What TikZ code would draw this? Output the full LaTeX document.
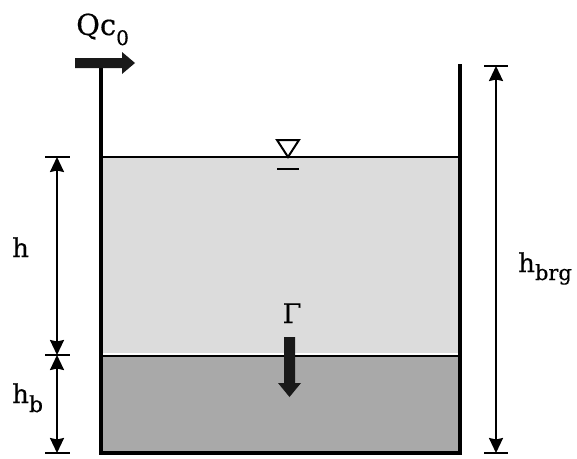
\documentclass[tikz,border=0pt]{standalone}
\usepackage{fontspec}
\setmainfont[FakeBold=0.4]{DejaVu Serif}
\usetikzlibrary{arrows.meta}
\newcommand{\lowsub}[3]{\raisebox{-#1}{\fontsize{#2}{#2}\selectfont #3}}
\begin{document}
\begin{tikzpicture}[x=1pt,y=-1pt,
  wall/.style={line width=3.6pt,line cap=rect},
  dimline/.style={line width=2pt,{Stealth[length=15pt,width=14pt,inset=1.5pt]}-{Stealth[length=15pt,width=14pt,inset=1.5pt]}},
  tick/.style={line width=2pt},
  lab/.style={font=\fontsize{26}{28}\selectfont,inner sep=0pt}]
\useasboundingbox (0,0) rectangle (577,458);
% fills
\fill[fill={rgb,255:red,220;green,220;blue,220}] (101,157) rectangle (460,353);
\fill[fill={rgb,255:red,169;green,169;blue,169}] (101,356) rectangle (460,453);
\draw[line width=2.8pt] (101,356) -- (460,356);
\draw[line width=2.8pt] (101,157) -- (460,157);
% walls
\draw[wall] (101,66) -- (101,453) -- (460,453) -- (460,66);
% inflow arrow
\fill[black!90] (75,58) -- (122,58) -- (122,52) -- (135,63) -- (122,74) -- (122,68) -- (75,68) -- cycle;
\node[lab,font=\fontsize{29}{30}\selectfont,anchor=base west] (qc) at (76,35) {Qc\lowsub{10pt}{20}{0}};
% free surface symbol
\draw[line width=2pt,line join=miter] (277,140) -- (299,140) -- (288,157) -- cycle;
\draw[line width=2pt] (277,169) -- (299,169);
% Gamma arrow
\fill[black!90] (284,337) -- (295,337) -- (295,383) -- (301,383) -- (289.5,397) -- (278,383) -- (284,383) -- cycle;
\node[lab,font=\fontsize{27}{30}\selectfont,anchor=base] (gam) at (292,323) {Γ};
% left dimensions
\coordinate (lt) at (57,157);
\coordinate (lm) at (57,355);
\coordinate (lb) at (57,453);
\draw[tick] (45,157) -- (70,157);
\draw[tick] (45,355) -- (70,355);
\draw[tick] (45,453) -- (70,453);
\draw[dimline] (lt) -- (lm);
\draw[dimline] (lm) -- (lb);
\node[lab,anchor=base west] (h) at (12,257) {h};
\node[lab,anchor=base west] (hb) at (12,403) {h\lowsub{9pt}{22}{b}};
% right dimension
\coordinate (rt) at (496,66);
\coordinate (rb) at (496,453);
\draw[tick] (484,66) -- (508,66);
\draw[tick] (484,453) -- (508,453);
\draw[dimline] (rt) -- (rb);
\node[lab,anchor=base west] (hbrg) at (518,272) {h\lowsub{8pt}{21}{brg}};
\end{tikzpicture}
\end{document}
